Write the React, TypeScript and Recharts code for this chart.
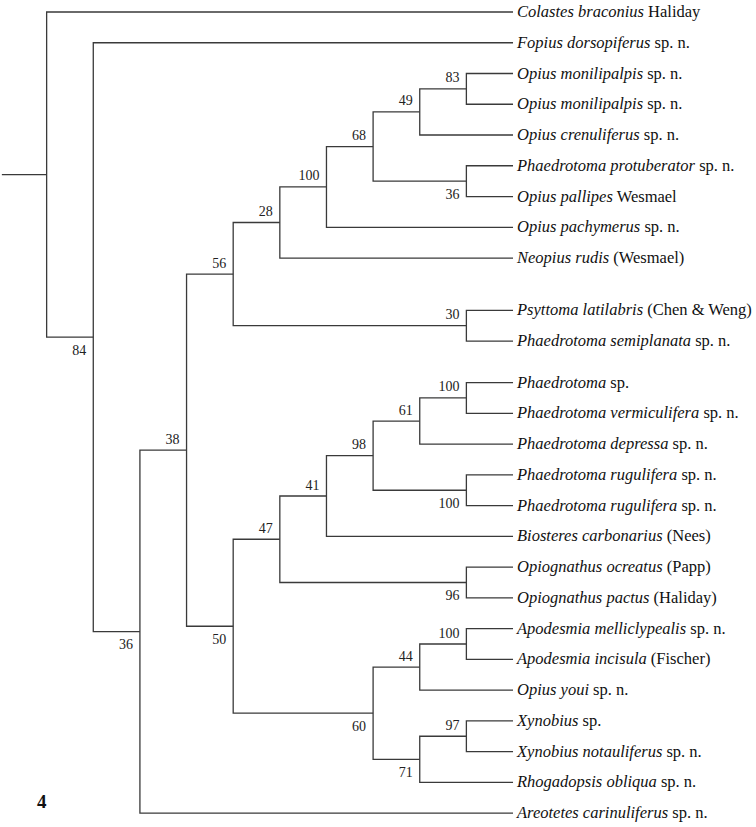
import { ComposedChart, Line, Scatter, XAxis, YAxis } from "recharts";

// leaf labels, top to bottom
const GENUS_SPECIES = [
  "Colastes braconius",
  "Fopius dorsopiferus",
  "Opius monilipalpis",
  "Opius monilipalpis",
  "Opius crenuliferus",
  "Phaedrotoma protuberator",
  "Opius pallipes",
  "Opius pachymerus",
  "Neopius rudis",
  "Psyttoma latilabris",
  "Phaedrotoma semiplanata",
  "Phaedrotoma",
  "Phaedrotoma vermiculifera",
  "Phaedrotoma depressa",
  "Phaedrotoma rugulifera",
  "Phaedrotoma rugulifera",
  "Biosteres carbonarius",
  "Opiognathus ocreatus",
  "Opiognathus pactus",
  "Apodesmia melliclypealis",
  "Apodesmia incisula",
  "Opius youi",
  "Xynobius",
  "Xynobius notauliferus",
  "Rhogadopsis obliqua",
  "Areotetes carinuliferus",
];

const AUTHORITY = [
  "Haliday",
  "sp. n.",
  "sp. n.",
  "sp. n.",
  "sp. n.",
  "sp. n.",
  "Wesmael",
  "sp. n.",
  "(Wesmael)",
  "(Chen & Weng)",
  "sp. n.",
  "sp.",
  "sp. n.",
  "sp. n.",
  "sp. n.",
  "sp. n.",
  "(Nees)",
  "(Papp)",
  "(Haliday)",
  "sp. n.",
  "(Fischer)",
  "sp. n.",
  "sp.",
  "sp. n.",
  "sp. n.",
  "sp. n.",
];

// vertical row of each leaf (gaps after Neopius and after semiplanata)
const LEAF_ROW = [
  0, 1, 2, 3, 4, 5, 6, 7, 8, 9.7, 10.7, 12.05, 13.05, 14.05, 15.05, 16.05,
  17.05, 18.05, 19.05, 20.05, 21.05, 22.05, 23.05, 24.05, 25.05, 26.05,
];

// internal nodes: children (leaf index or node id), bootstrap support
const NODE_IDS = [
  "root", "n84", "n36a", "n38", "n56", "n28", "n100a", "n68", "n49", "n83",
  "n36b", "n30", "n50", "n47", "n41", "n98", "n61", "n100c", "n100b", "n96",
  "n60", "n44", "n100d", "n71", "n97",
];
const NODE_CHILDREN: (number | string)[][] = [
  [0, "n84"], [1, "n36a"], ["n38", 25], ["n56", "n50"], ["n28", "n30"],
  ["n100a", 8], ["n68", 7], ["n49", "n36b"], ["n83", 4], [2, 3],
  [5, 6], [9, 10], ["n47", "n60"], ["n41", "n96"], ["n98", 16],
  ["n61", "n100b"], ["n100c", 13], [11, 12], [14, 15], [17, 18],
  ["n44", "n71"], ["n100d", 21], [19, 20], ["n97", 24], [22, 23],
];
const SUPPORT = [
  null, 84, 36, 38, 56, 28, 100, 68, 49, 83,
  36, 30, 50, 47, 41, 98, 61, 100, 100, 96,
  60, 44, 100, 71, 97,
];
const LABEL_BELOW = [
  false, true, true, false, false, false, false, false, false, false,
  true, false, true, false, false, false, false, false, true, true,
  true, false, false, true, false,
];

const TIP_LEVEL = 11;
const LINE_COLOR = "#3a3a3a";
const SERIF = "Liberation Serif, DejaVu Serif, Times, serif";

type Pos = { x: number; y: number; h: number };

const pos: Record<string, Pos> = {};
function place(c: number | string): Pos {
  if (typeof c === "number") return { x: TIP_LEVEL, y: LEAF_ROW[c], h: 0 };
  if (pos[c]) return pos[c];
  const i = NODE_IDS.indexOf(c);
  const kids = NODE_CHILDREN[i].map(place);
  const h = Math.max(...kids.map((k) => k.h)) + 1;
  const p = {
    x: TIP_LEVEL - h,
    y: (kids[0].y + kids[kids.length - 1].y) / 2,
    h,
  };
  pos[c] = p;
  return p;
}
place("root");

const branchSeries = NODE_IDS.map((id, i) => {
  const n = pos[id];
  const [a, b] = NODE_CHILDREN[i].map(place);
  return [
    { x: a.x, y: a.y },
    { x: n.x, y: a.y },
    { x: n.x, y: b.y },
    { x: b.x, y: b.y },
  ];
});
const rootStub = [
  { x: 0.04, y: pos.root.y },
  { x: pos.root.x, y: pos.root.y },
];

const leafData = GENUS_SPECIES.map((name, i) => ({
  x: TIP_LEVEL,
  y: LEAF_ROW[i],
  name,
  auth: AUTHORITY[i],
}));

const supportData = NODE_IDS.map((id, i) => ({
  x: pos[id].x,
  y: pos[id].y,
  v: SUPPORT[i],
  below: LABEL_BELOW[i],
})).filter((d) => d.v !== null);

const LeafLabel = (props: any) => {
  const { cx, cy, payload } = props;
  return (
    <text x={cx + 4} y={cy + 5} style={{ fontFamily: SERIF, fontSize: 16.5 }} fill="#111">
      <tspan style={{ fontStyle: "italic" }}>{payload.name}</tspan>
      <tspan> {payload.auth}</tspan>
    </text>
  );
};

const SupportLabel = (props: any) => {
  const { cx, cy, payload } = props;
  return (
    <text
      x={cx - 7}
      y={payload.below ? cy + 17.5 : cy - 6.5}
      textAnchor="end"
      style={{ fontFamily: SERIF, fontSize: 14 }}
      fill="#222"
    >
      {payload.v}
    </text>
  );
};

export default function App() {
  return (
    <div style={{ position: "absolute", left: 0, top: 0, width: 756, height: 827, background: "#fff" }}>
      <ComposedChart
        width={756}
        height={827}
        margin={{ top: 12, right: 0, bottom: 0, left: 0 }}
      >
        <XAxis type="number" dataKey="x" domain={[0, 16.21]} hide />
        <YAxis type="number" dataKey="y" domain={[0, 26.5]} reversed hide />
        <Line
          data={rootStub}
          dataKey="y"
          stroke={LINE_COLOR}
          strokeWidth={1.3}
          dot={false}
          isAnimationActive={false}
        />
        {branchSeries.map((d, i) => (
          <Line
            key={NODE_IDS[i]}
            data={d}
            dataKey="y"
            type="linear"
            stroke={LINE_COLOR}
            strokeWidth={1.3}
            dot={false}
            isAnimationActive={false}
          />
        ))}
        <Scatter data={leafData} dataKey="y" shape={LeafLabel} isAnimationActive={false} />
        <Scatter data={supportData} dataKey="y" shape={SupportLabel} isAnimationActive={false} />
      </ComposedChart>
      <div
        style={{
          position: "absolute",
          left: 37,
          top: 791,
          fontFamily: SERIF,
          fontWeight: "bold",
          fontSize: 19,
          color: "#111",
        }}
      >
        4
      </div>
    </div>
  );
}
